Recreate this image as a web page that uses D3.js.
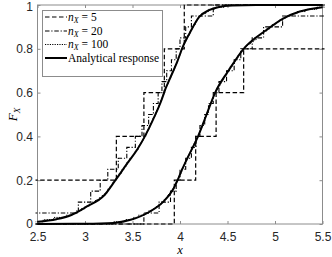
<!DOCTYPE html>
<html><head><meta charset="utf-8">
<script src="https://cdn.jsdelivr.net/npm/d3@7"></script>
<style>
html,body{margin:0;padding:0;background:#fff;}
svg{display:block;}
</style></head>
<body>
<script>
// ---- data ----
const xTicks = [2.5, 3, 3.5, 4, 4.5, 5, 5.5];
const xTickLabels = ["2.5", "3", "3.5", "4", "4.5", "5", "5.5"];
const yTicks = [0, 0.2, 0.4, 0.6, 0.8, 1];
const yTickLabels = ["0", "0.2", "0.4", "0.6", "0.8", "1"];
const legendLabels = ["n5", "n20", "n100", "Analytical response"];

// analytical CDFs
const leftCurveX = [2.5, 2.7, 2.85, 3.02, 3.2, 3.32, 3.45, 3.55, 3.63, 3.72, 3.8, 3.85, 3.9, 3.97, 4.03, 4.1, 4.2, 4.3, 4.4, 4.55, 4.8, 5.5];
const leftCurveF = [0.01, 0.022, 0.04, 0.08, 0.13, 0.2, 0.28, 0.34, 0.40, 0.48, 0.56, 0.62, 0.67, 0.74, 0.81, 0.87, 0.945, 0.975, 0.99, 0.998, 1.0, 1.0];
const rightCurveX = [2.5, 3.0, 3.3, 3.47, 3.68, 3.82, 3.93, 3.975, 4.02, 4.1, 4.19, 4.28, 4.37, 4.51, 4.67, 4.91, 5.09, 5.26, 5.5];
const rightCurveF = [0, 0.001, 0.005, 0.018, 0.056, 0.10, 0.16, 0.20, 0.247, 0.32, 0.40, 0.50, 0.60, 0.70, 0.80, 0.886, 0.939, 0.97, 0.99];

// samples (sorted) for empirical CDFs
const leftN5 = [2.40, 3.33, 3.62, 3.835, 4.045];
const rightN5 = [3.94, 4.165, 4.38, 4.67, 5.70];
const leftN20 = [2.30, 2.93, 3.06, 3.16, 3.24, 3.35, 3.44, 3.53, 3.60, 3.67, 3.72, 3.77, 3.81, 3.86, 3.91, 3.96, 4.00, 4.06, 4.12, 4.35];
const rightN20 = [3.62, 3.78, 3.90, 3.96, 4.00, 4.06, 4.12, 4.17, 4.21, 4.26, 4.30, 4.35, 4.41, 4.49, 4.57, 4.64, 4.76, 4.88, 5.08, 5.60];
const leftN100 = [2.38, 2.56, 2.67, 2.80, 2.87, 2.91, 2.96, 3.00, 3.04, 3.07,
  3.11, 3.15, 3.18, 3.21, 3.23, 3.24, 3.26, 3.28, 3.29, 3.31,
  3.33, 3.34, 3.36, 3.38, 3.39, 3.41, 3.43, 3.44, 3.46, 3.47,
  3.49, 3.51, 3.52, 3.54, 3.56, 3.57, 3.58, 3.60, 3.61, 3.62,
  3.64, 3.65, 3.66, 3.67, 3.68, 3.69, 3.70, 3.71, 3.725, 3.735,
  3.745, 3.755, 3.765, 3.775, 3.785, 3.795, 3.80, 3.81, 3.82, 3.83,
  3.84, 3.845, 3.855, 3.865, 3.875, 3.885, 3.895, 3.905, 3.915, 3.925,
  3.935, 3.945, 3.955, 3.965, 3.975, 3.98, 3.99, 4.00, 4.01, 4.02,
  4.025, 4.035, 4.05, 4.06, 4.07, 4.08, 4.095, 4.105, 4.12, 4.13,
  4.145, 4.16, 4.175, 4.185, 4.20, 4.23, 4.27, 4.30, 4.37, 4.47];
const rightN100 = [3.30, 3.43, 3.51, 3.56, 3.62, 3.67, 3.71, 3.74, 3.77, 3.80,
  3.83, 3.85, 3.87, 3.88, 3.90, 3.92, 3.935, 3.945, 3.96, 3.97,
  3.98, 3.99, 4.00, 4.01, 4.02, 4.03, 4.04, 4.05, 4.06, 4.07,
  4.085, 4.095, 4.105, 4.12, 4.13, 4.14, 4.15, 4.16, 4.17, 4.185,
  4.195, 4.205, 4.215, 4.22, 4.23, 4.24, 4.25, 4.26, 4.265, 4.275,
  4.285, 4.295, 4.30, 4.31, 4.32, 4.33, 4.34, 4.35, 4.355, 4.365,
  4.38, 4.39, 4.405, 4.42, 4.43, 4.45, 4.46, 4.475, 4.49, 4.50,
  4.52, 4.53, 4.55, 4.57, 4.58, 4.60, 4.61, 4.63, 4.645, 4.66,
  4.68, 4.71, 4.74, 4.77, 4.80, 4.82, 4.85, 4.88, 4.91, 4.94,
  4.97, 5.01, 5.04, 5.08, 5.12, 5.18, 5.23, 5.32, 5.44, 5.62];

// ---- layout ----
const W = 332, H = 257;
const L = 37.5, R = 322.5, T = 5, B = 224;
const ink = "#262626";
const boxCol = "#8c8c8c";

const svg = d3.select("body").append("svg").attr("width", W).attr("height", H);
const x = d3.scaleLinear().domain([2.5, 5.5]).range([L, R]);
const y = d3.scaleLinear().domain([0, 1]).range([B, T]);

svg.append("defs").append("clipPath").attr("id", "clip")
  .append("rect").attr("x", L - 2).attr("y", T - 2).attr("width", R - L + 4).attr("height", B - T + 4);

// axes (inner ticks, all four sides)
const gx = svg.append("g").attr("transform", `translate(0,${B})`)
  .call(d3.axisBottom(x).tickValues(xTicks).tickFormat((d, i) => xTickLabels[i]).tickSizeInner(-3).tickSizeOuter(0).tickPadding(8.5));
const gy = svg.append("g").attr("transform", `translate(${L},0)`)
  .call(d3.axisLeft(y).tickValues(yTicks).tickFormat((d, i) => yTickLabels[i]).tickSizeInner(-3).tickSizeOuter(0).tickPadding(4.5));
const gx2 = svg.append("g").attr("transform", `translate(0,${T})`)
  .call(d3.axisTop(x).tickValues(xTicks).tickFormat("").tickSizeInner(-3).tickSizeOuter(0));
const gy2 = svg.append("g").attr("transform", `translate(${R},0)`)
  .call(d3.axisRight(y).tickValues(yTicks).tickFormat("").tickSizeInner(-3).tickSizeOuter(0));
[gx, gy, gx2, gy2].forEach(g => {
  g.select(".domain").remove();
  g.selectAll("line").attr("stroke", boxCol);
  g.selectAll("text").attr("fill", ink).style("font-family", "'Liberation Sans', Arial, sans-serif").style("font-size", "12px");
});
// keep the top "1" label inside the picture
gy.selectAll(".tick text").filter(d => d === 1).attr("dy", "0.42em");
svg.append("rect").attr("x", L).attr("y", T).attr("width", R - L).attr("height", B - T)
  .attr("fill", "none").attr("stroke", boxCol).attr("stroke-width", 1);

// ---- lines ----
const plot = svg.append("g").attr("clip-path", "url(#clip)");
function ecdfPoints(s) {
  const n = s.length;
  const pts = [[1.0, 0]];
  s.forEach((v, i) => pts.push([v, (i + 1) / n]));
  pts.push([7.0, 1]);
  return pts;
}
const stepLine = d3.line().x(d => x(d[0])).y(d => y(d[1])).curve(d3.curveStepAfter);
const smoothLine = d3.line().x(d => x(d[0])).y(d => y(d[1])).curve(d3.curveMonotoneX);

const styles = {
  n5: { dash: "4.5,2.5", width: 1.2 },
  n20: { dash: "4.5,1.8,1.2,1.8", width: 1.1 },
  n100: { dash: "1.2,1.2", width: 1.0 },
  an: { dash: null, width: 2.0 }
};
[[leftN5, rightN5, styles.n5], [leftN20, rightN20, styles.n20], [leftN100, rightN100, styles.n100]].forEach(([a, b, st]) => {
  [a, b].forEach(s => {
    plot.append("path").attr("d", stepLine(ecdfPoints(s)))
      .attr("fill", "none").attr("stroke", "#000").attr("stroke-width", st.width)
      .attr("stroke-dasharray", st.dash);
  });
});
[[leftCurveX, leftCurveF], [rightCurveX, rightCurveF]].forEach(([xs, fs]) => {
  plot.append("path").attr("d", smoothLine(xs.map((v, i) => [v, fs[i]])))
    .attr("fill", "none").attr("stroke", "#000").attr("stroke-width", styles.an.width);
});

// ---- legend ----
const lg = svg.append("g");
lg.append("rect").attr("x", 42.5).attr("y", 10.5).attr("width", 120).attr("height", 66)
  .attr("fill", "#fff").attr("stroke", boxCol).attr("stroke-width", 1);
const legendY = [17, 31, 44.5, 58];
const legendStyles = [styles.n5, styles.n20, styles.n100, styles.an];
const legendNums = ["5", "20", "100"];
legendLabels.forEach((lab, i) => {
  const st = legendStyles[i];
  lg.append("line").attr("x1", 45).attr("x2", 67).attr("y1", legendY[i]).attr("y2", legendY[i])
    .attr("stroke", "#000").attr("stroke-width", st.width).attr("stroke-dasharray", st.dash);
  const t = lg.append("text").attr("x", 68).attr("y", legendY[i] + 3.5)
    .style("font-family", "'Liberation Serif', 'Times New Roman', serif").style("font-size", "11.5px").attr("fill", "#000");
  if (i < 3) {
    t.append("tspan").style("font-style", "italic").text("n");
    t.append("tspan").style("font-style", "italic").style("font-size", "8px").attr("dy", 2).text("X");
    t.append("tspan").attr("dy", -2).text(" = " + legendNums[i]);
  } else {
    t.text(lab);
  }
});

// ---- axis labels ----
svg.append("text").attr("x", (L + R) / 2).attr("y", 254).attr("text-anchor", "middle")
  .style("font-family", "'Liberation Serif', serif").style("font-style", "italic").style("font-size", "12.5px").text("x");
const yl = svg.append("text").attr("transform", `translate(17,${(T + B) / 2}) rotate(-90)`).attr("text-anchor", "middle")
  .style("font-family", "'Liberation Serif', serif").style("font-style", "italic").style("font-size", "13px");
yl.append("tspan").text("F");
yl.append("tspan").style("font-size", "9px").attr("dy", 3).text("X");
</script>
</body></html>
